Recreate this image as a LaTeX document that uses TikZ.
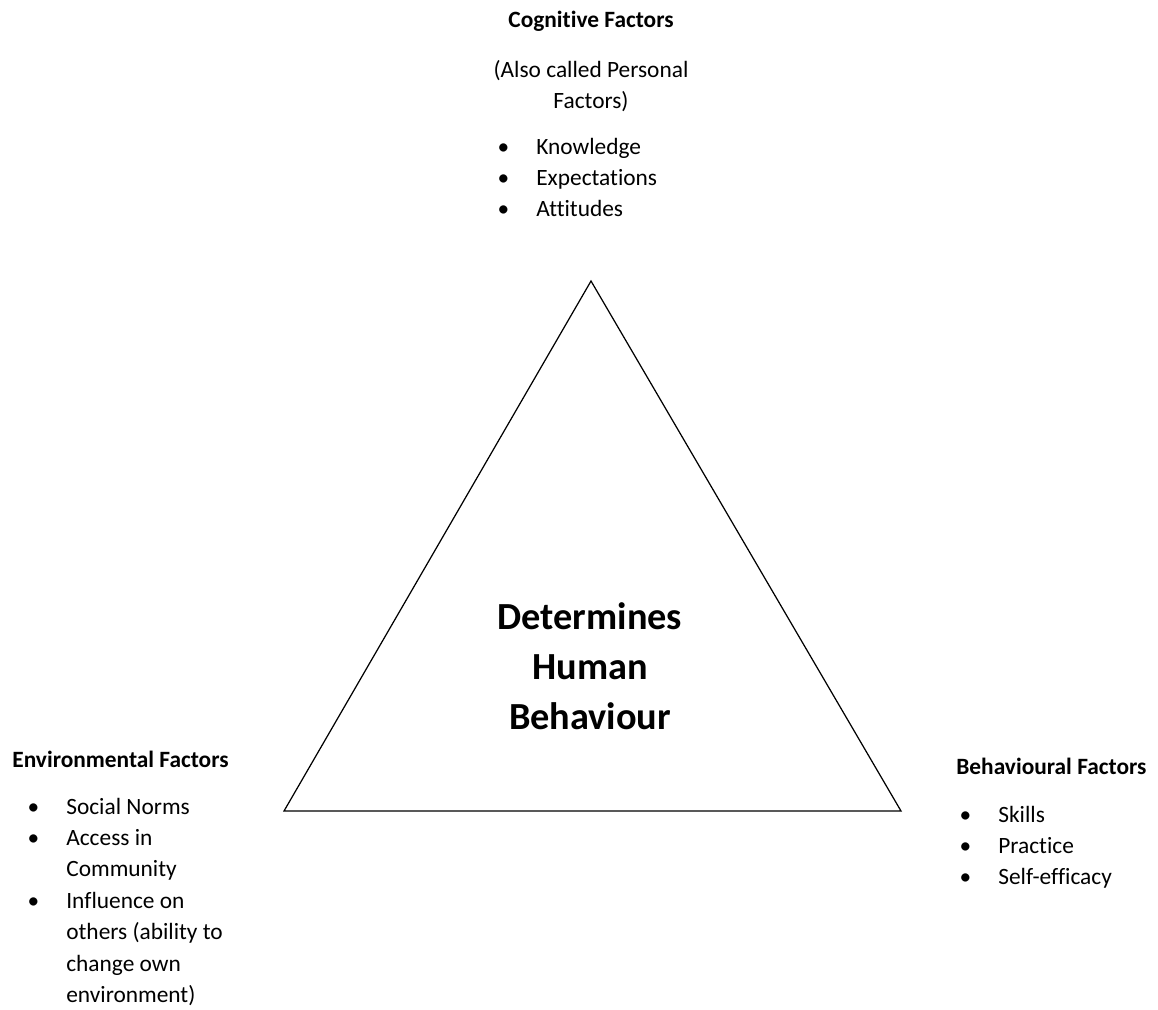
\documentclass[tikz,border=0pt]{standalone}
\usepackage{fontspec}
\setmainfont{Carlito}[Ligatures=NoCommon]
\usepackage{tikz}
\usetikzlibrary{positioning}

\tikzstyle{heading} = [inner sep=0pt, anchor=base west, font=\fontsize{13.3}{17.9}\selectfont\bfseries]
\tikzstyle{listing} = [inner sep=0pt, anchor=base west, font=\fontsize{13.3}{17.9}\selectfont]
\tikzstyle{core} = [inner sep=0pt, anchor=base, font=\fontsize{21.8}{28.7}\selectfont\bfseries]
\tikzstyle{side} = [draw=black, line width=0.7pt, line join=miter]
\newcommand{\bul}{\makebox[0.3cm]{\textbullet}\hspace{0.51cm}}
\newcommand{\cont}{\hspace{0.81cm}}

\begin{document}
\begin{tikzpicture}[x=0.02cm, y=-0.02cm]
\useasboundingbox (0,0) rectangle (1158,1009);

% corners of the triangle
\coordinate (top) at (591,281);
\coordinate (lft) at (284,811);
\coordinate (rgt) at (901,811);
\draw [side] (top) -- (rgt) -- (lft) -- cycle;

\node (core) [core] at (590,629) {\begin{tabular}[t]{@{}c@{}}Determines\\Human\\Behaviour\end{tabular}};

% cognitive (top)
\node (cog) [heading, anchor=base] at (591,27) {Cognitive Factors};
\node (pers) [listing, anchor=base] at (591,77) {\begin{tabular}[t]{@{}c@{}}(Also called Personal\\Factors)\end{tabular}};
\node (cogl) [listing] at (495.5,154) {\begin{tabular}[t]{@{}l@{}}\bul Knowledge\\\bul Expectations\\\bul Attitudes\end{tabular}};

% environmental (left)
\node (env) [heading] at (12,767) {Environmental Factors};
\node (envl) [listing] at (25.5,814) {\begin{tabular}[t]{@{}l@{}}\bul Social Norms\\\bul Access in\\\cont Community\\\bul Influence on\\\cont others (ability to\\\cont change own\\\cont environment)\end{tabular}};

% behavioural (right)
\node (beh) [heading] at (956,774) {Behavioural Factors};
\node (behl) [listing] at (957.5,822) {\begin{tabular}[t]{@{}l@{}}\bul Skills\\\bul Practice\\\bul Self-efficacy\end{tabular}};

\end{tikzpicture}
\end{document}
